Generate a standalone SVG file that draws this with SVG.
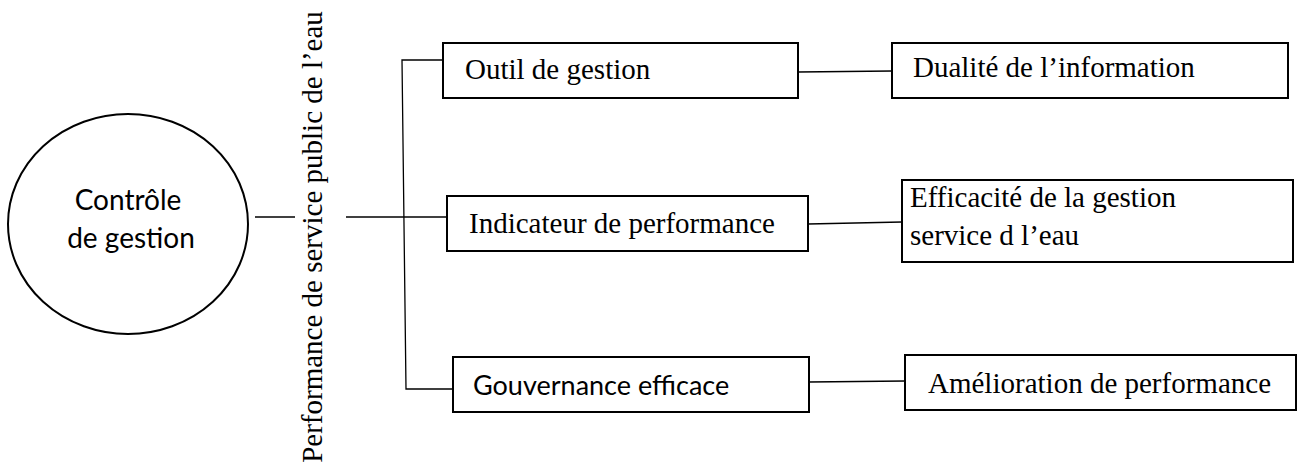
<svg xmlns="http://www.w3.org/2000/svg" width="1301" height="469" viewBox="0 0 1301 469">
<style>
.box{fill:#fff;stroke:#000;stroke-width:2}
.ln{fill:none;stroke:#000;stroke-width:1.3}
.serif{font-family:"Liberation Serif","Times New Roman",serif;font-size:29px;fill:#000}
.sans{font-family:Lato,"Liberation Sans",sans-serif;font-size:27px;fill:#000}
</style>
<rect width="1301" height="469" fill="#fff"/>
<g id="connectors">
<line class="ln" x1="255" y1="217" x2="295" y2="217"/>
<line class="ln" x1="346" y1="217" x2="447" y2="217"/>
<polyline class="ln" points="442,60 402,60 406,389 453,389"/>
<line class="ln" x1="798" y1="72" x2="892" y2="71"/>
<line class="ln" x1="808" y1="224" x2="902" y2="222"/>
<line class="ln" x1="809" y1="382" x2="905" y2="381"/>
</g>
<g id="controle">
<ellipse class="box" cx="128" cy="224" rx="120" ry="110"/>
<text class="sans" x="128" y="210" text-anchor="middle" style="font-size:28px">Contrôle</text>
<text class="sans" x="131" y="248" text-anchor="middle" style="font-size:28px">de gestion</text>
</g>
<g id="performance">
<text class="serif" transform="translate(322,237) rotate(-90)" text-anchor="middle">Performance de service public de l’eau</text>
</g>
<g id="outil">
<rect class="box" x="443" y="43" width="355" height="55"/>
<text class="serif" x="465" y="79">Outil de gestion</text>
</g>
<g id="indicateur">
<rect class="box" x="447" y="196" width="361" height="55"/>
<text class="serif" x="469" y="233">Indicateur de performance</text>
</g>
<g id="gouvernance">
<rect class="box" x="453" y="357" width="356" height="55"/>
<text class="sans" x="473" y="395">Gouvernance efficace</text>
</g>
<g id="dualite">
<rect class="box" x="892" y="43" width="396" height="55"/>
<text class="serif" x="913" y="77">Dualité de l’information</text>
</g>
<g id="efficacite">
<rect class="box" x="902" y="180" width="391" height="82"/>
<text class="serif" x="910" y="207">Efficacité de la gestion</text>
<text class="serif" x="910" y="245">service d l’eau</text>
</g>
<g id="amelioration">
<rect class="box" x="905" y="355" width="391" height="55"/>
<text class="serif" x="928" y="393">Amélioration de performance</text>
</g>
</svg>
